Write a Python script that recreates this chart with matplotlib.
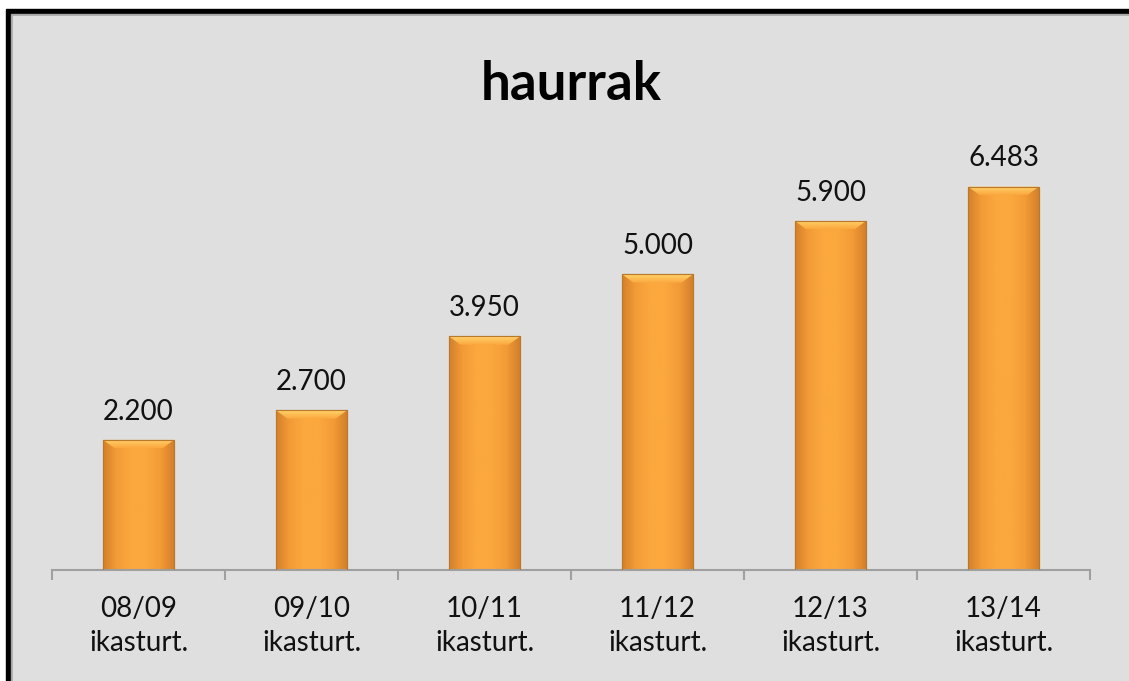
import numpy as np
import matplotlib
matplotlib.use("Agg")
from matplotlib import pyplot as plt
from matplotlib.patches import Rectangle, Polygon
from matplotlib.colors import LinearSegmentedColormap

### data
years  = ['08/09', '09/10', '10/11', '11/12', '12/13', '13/14']
suffix = 'ikasturt.'
values = [2200, 2700, 3950, 5000, 5900, 6483]
value_labels = ['2.200', '2.700', '3.950', '5.000', '5.900', '6.483']

W, H = 1129, 681
plt.rcParams['font.family'] = ['Lato', 'DejaVu Sans']

fig = plt.figure(figsize=(W/100, H/100), dpi=100)
fig.patch.set_facecolor('white')

px = lambda x, y: (x/W, 1 - y/H)

# frame: black border, thin gray line, light gray fill
def frame_rect(x0, y0, color):
    fx, fy = px(x0, H + 5)
    fx2, fy2 = px(W + 5, y0)
    fig.patches.append(Rectangle((fx, fy), fx2 - fx, fy2 - fy,
                                 transform=fig.transFigure, color=color, zorder=-10))

frame_rect(6, 9, 'black')
frame_rect(11, 14, '#a6a6a6')
frame_rect(13, 16, '#dfdfdf')

# axes in pixel layout
left, bottom = px(52, 570)
right, top = px(1090, 156)
ax = fig.add_axes([left, bottom, right - left, top - bottom])
ax.set_facecolor('none')
ax.set_ylim(0, 7000)
ax.set_xlim(-0.5, len(years) - 0.5)

x = np.arange(len(years))
bars = ax.bar(x, values, width=0.41, color='#f7a23b', edgecolor='#b9782c',
              linewidth=0.8, zorder=2)

# gradient shading clipped to each bar
grad_cmap = LinearSegmentedColormap.from_list(
    'bar', ['#d4802a', '#f39c37', '#fba83e', '#fba83e', '#f39c37', '#d4802a'])
grad = np.linspace(0, 1, 256).reshape(1, -1)
bev_cmap = LinearSegmentedColormap.from_list('bev', ['#fba83e', '#ffd36a'])
bev_grad = np.linspace(0, 1, 64).reshape(-1, 1)
for b in bars:
    x0, w, h = b.get_x(), b.get_width(), b.get_height()
    im = ax.imshow(grad, cmap=grad_cmap, aspect='auto',
                   extent=(x0, x0 + w, 0, h), zorder=2.5)
    im.set_clip_path(b)
    # top bevel highlight
    bev_x = w * 0.16
    bev_y = 7000 * 0.02
    bev = Polygon([(x0, h), (x0 + w, h), (x0 + w - bev_x, h - bev_y),
                   (x0 + bev_x, h - bev_y)], closed=True,
                  facecolor='none', edgecolor='none', zorder=2.6)
    ax.add_patch(bev)
    bim = ax.imshow(bev_grad, cmap=bev_cmap, aspect='auto', origin='lower',
                    extent=(x0, x0 + w, h - bev_y, h), zorder=2.6)
    bim.set_clip_path(bev)
    ax.add_patch(Rectangle((x0, 0), w, h, facecolor='none',
                           edgecolor='#b9782c', linewidth=0.8, zorder=2.7))

for xi, v, lab in zip(x, values, value_labels):
    ax.annotate(lab, (xi, v), xytext=(0, 11), textcoords='offset points',
                ha='center', va='bottom', fontsize=20, color='#111111',
                annotation_clip=False)

for s in ['top', 'right', 'left']:
    ax.spines[s].set_visible(False)
ax.spines['bottom'].set_color('#a0a0a0')
ax.spines['bottom'].set_linewidth(1.5)
ax.set_yticks([])

ax.set_xticks(np.arange(-0.5, len(years) + 0.5, 1))
ax.set_xticklabels([])
ax.tick_params(axis='x', length=7, width=1.5, color='#a0a0a0')

for xi, yr in zip(x, years):
    ax.text(xi, -0.062, yr + '\n' + suffix, transform=ax.get_xaxis_transform(),
            ha='center', va='top', fontsize=20, color='#111111', linespacing=1.42)

fig.text(571/W, 1 - 85/H, 'haurrak', ha='center', va='center',
         fontsize=38, fontweight='bold', color='black')

fig.savefig('out.png', dpi=100)
